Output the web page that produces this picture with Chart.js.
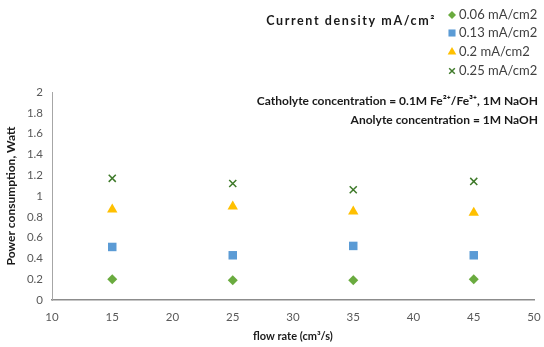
<!DOCTYPE html>
<html><head><meta charset="utf-8">
<script src="https://cdn.jsdelivr.net/npm/chart.js@4"></script>
<style>html,body{margin:0;padding:0;background:#fff}#wrap{width:544px;height:347px;position:relative}</style>
</head><body><div id="wrap"><canvas id="c" width="544" height="347"></canvas></div>
<script>
const flowRates = [15, 25, 35, 45];
const seriesNames = ['0.06 mA/cm2', '0.13 mA/cm2', '0.2 mA/cm2', '0.25 mA/cm2'];
const power006 = [0.20, 0.19, 0.19, 0.20];
const power013 = [0.51, 0.43, 0.52, 0.43];
const power020 = [0.87, 0.90, 0.85, 0.84];
const power025 = [1.17, 1.12, 1.06, 1.14];
const xTicks = [10, 15, 20, 25, 30, 35, 40, 45, 50];
const yTicks = [0, 0.2, 0.4, 0.6, 0.8, 1, 1.2, 1.4, 1.6, 1.8, 2];
const legendTitle = 'Current density mA/cm\u00B2';
const note1 = 'Catholyte concentration = 0.1M Fe\u00B2\u207A/Fe\u00B3\u207A, 1M NaOH';
const note2 = 'Anolyte concentration = 1M NaOH';

const styles = [
  {pointStyle:'rectRot', color:'#6aab3f', radius:5, bw:0},
  {pointStyle:'rect', color:'#5b9bd5', radius:6, bw:0},
  {pointStyle:'triangle', color:'#ffc000', radius:6, bw:0},
  {pointStyle:'crossRot', color:'#3f7a2a', radius:5, bw:1.5}
];
const vals = [power006, power013, power020, power025];
const datasets = vals.map((v,i)=>({
  label: seriesNames[i],
  data: flowRates.map((x,j)=>({x:x, y:v[j]})),
  pointStyle: styles[i].pointStyle,
  pointRadius: styles[i].radius,
  backgroundColor: styles[i].color,
  borderColor: styles[i].color,
  pointBorderWidth: styles[i].bw,
  showLine:false
}));

const FONT = 'Lato, "Open Sans", sans-serif';

const annot = {
  id:'annot',
  afterDraw(chart){
    const ctx = chart.ctx;
    ctx.save();
    ctx.fillStyle = '#1a1a1a';
    ctx.font = 'bold 12.5px ' + FONT;
    ctx.textBaseline = 'middle';
    ctx.textAlign = 'right';
    if ('letterSpacing' in ctx) ctx.letterSpacing = '1.6px';
    ctx.fillText(legendTitle, 436, 21);
    if ('letterSpacing' in ctx) ctx.letterSpacing = '0px';
    const ys = [15, 33, 52, 71];
    ctx.textAlign = 'left';
    ctx.font = '13px ' + FONT;
    for (let i=0;i<4;i++){
      const s = styles[i];
      ctx.fillStyle = s.color; ctx.strokeStyle = s.color;
      ctx.lineWidth = s.bw || 1;
      Chart.helpers.drawPoint(ctx, {pointStyle:s.pointStyle, radius: s.radius-1, borderWidth: s.bw}, 452, ys[i]);
      ctx.fillStyle = '#404040';
      ctx.fillText(seriesNames[i], 459, ys[i]);
    }
    ctx.fillStyle = '#1a1a1a';
    ctx.textAlign = 'right';
    ctx.font = 'bold 12px ' + FONT;
    ctx.fillText(note1, 538, 101);
    ctx.fillText(note2, 538, 120);
    ctx.restore();
  }
};

new Chart(document.getElementById('c'), {
  type:'scatter',
  data:{datasets},
  options:{
    responsive:false, animation:false, devicePixelRatio:1,
    layout:{autoPadding:false, padding:{top:92, right:10, left:0, bottom:0}},
    plugins:{legend:{display:false}, tooltip:{enabled:false}},
    scales:{
      x:{
        type:'linear', min:10, max:50,
        afterBuildTicks(s){ s.ticks = xTicks.map(v=>({value:v})); },
        afterFit(s){ s.height = 47; s.paddingLeft = 0; s.paddingRight = 0; },
        grid:{display:false, drawTicks:false},
        border:{display:true, color:'#8c8c8c', width:1.5},
        ticks:{color:'#595959', font:{family:FONT, size:11.5}, padding:10, maxRotation:0, callback:v=>String(v)},
        title:{display:true, text:'flow rate (cm\u00B3/s)', color:'#1a1a1a', font:{family:FONT, size:11, weight:'bold'}, padding:{top:5}}
      },
      y:{
        min:0, max:2,
        afterBuildTicks(s){ s.ticks = yTicks.map(v=>({value:v})); },
        afterFit(s){ s.width = 52; s.paddingTop = 0; s.paddingBottom = 0; },
        grid:{display:false, drawTicks:false},
        border:{display:true, color:'#a6a6a6', width:1},
        ticks:{color:'#595959', font:{family:FONT, size:11.5}, padding:9, callback:v=>String(v)},
        title:{display:true, text:'Power consumption, Watt', color:'#1a1a1a', font:{family:FONT, size:12, weight:'bold'}, padding:{top:4, bottom:0}}
      }
    }
  },
  plugins:[annot]
});
</script></body></html>
